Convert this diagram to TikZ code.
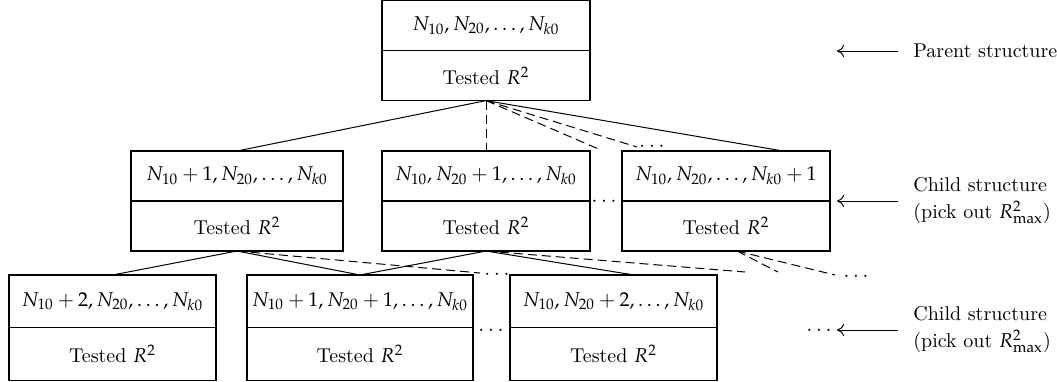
\documentclass[tikz,border=0pt]{standalone}
\usepackage{mathpazo}
\usetikzlibrary{arrows.meta,calc}
\newcommand\tbox[7]{%
  \node[frame, minimum width=#4, minimum height=#5] (#1) at (#2,#3) {};
  \draw[divline] (#1.west) -- (#1.east);
  \node[lbl] (#1-t) at ($(#1.north)!0.5!(#1.center)$) {#6};
  \node[lbl] (#1-b) at ($(#1.south)!0.5!(#1.center)$) {#7};
}
\begin{document}
\begin{tikzpicture}[x=0.5pt,y=-0.5pt,
  frame/.style={draw, line width=0.6pt, inner sep=0pt, outer sep=0pt},
  divline/.style={line width=0.6pt},
  lbl/.style={inner sep=0pt, font=\fontsize{10}{12}\selectfont},
  side/.style={inner sep=0pt, anchor=west, align=left, font=\fontsize{10}{13.5}\selectfont},
  dotsn/.style={inner sep=0pt, anchor=base, font=\fontsize{10}{12}\selectfont},
  link/.style={line width=0.5pt},
  dlink/.style={line width=0.5pt, dash pattern=on 4.5pt off 2.5pt},
  pointer/.style={line width=0.5pt, -{To[length=3.5pt,width=6pt]}},
]
\useasboundingbox (0,0) rectangle (1057,381);

% boxes
\tbox{p}{486}{50.6}{104pt}{50pt}{$N_{10}, N_{20}, \ldots, N_{k0}$}{Tested $R^2$}
\tbox{c1}{237}{201}{106pt}{50pt}{$N_{10}+1, N_{20}, \ldots, N_{k0}$}{Tested $R^2$}
\tbox{c2}{486}{201}{104pt}{50pt}{$N_{10}, N_{20}+1, \ldots, N_{k0}$}{Tested $R^2$}
\tbox{c3}{726}{201}{104pt}{50pt}{$N_{10}, N_{20}, \ldots, N_{k0}+1$}{Tested $R^2$}
\tbox{g1}{112.5}{327.7}{103.5pt}{52.7pt}{$N_{10}+2, N_{20}, \ldots, N_{k0}$}{Tested $R^2$}
\tbox{g2}{360}{327.7}{113pt}{52.7pt}{$N_{10}+1, N_{20}+1, \ldots, N_{k0}$}{Tested $R^2$}
\tbox{g3}{613.5}{327.7}{103.5pt}{52.7pt}{$N_{10}, N_{20}+2, \ldots, N_{k0}$}{Tested $R^2$}

% free ends and special anchor points
\coordinate (e1) at (601,150);
\coordinate (e2) at (637,147);
\coordinate (c3in) at (783,151);
\coordinate (c3out) at (737,251);
\coordinate (g3in) at (634,275);
\coordinate (e3) at (480,273);
\coordinate (e4) at (745,272);
\coordinate (e5) at (778,272);
\coordinate (e6) at (835,275);

% dots
\node[dotsn] (d1) at (652,151) {$\cdots$};
\node[dotsn] (d2) at (604,206.5) {$\cdots$};
\node[dotsn] (d3) at (497,279) {$\cdots$};
\node[dotsn] (d4) at (856,281) {$\cdots$};
\node[dotsn] (d5) at (491,335) {$\cdots$};
\node[dotsn] (d6) at (819,335) {$\cdots$};

% level 1 connectors
\draw[link] (p.south) -- (c1.north);
\draw[dlink] (p.south) -- (c2.north);
\draw[dlink] (p.south) -- (e1);
\draw[dlink] (p.south) -- (e2);
\draw[link] (p.south) -- (c3in);

% level 2 connectors
\draw[link] (c1.south) -- (g1.north);
\draw[link] (c1.south) -- (g2.north);
\draw[dlink] (c1.south) -- (e3);
\draw[link] (c2.south) -- (g2.north);
\draw[link] (c2.south) -- (g3in);
\draw[dlink] (c2.south) -- (e4);
\draw[dlink] (c3out) -- (e5);
\draw[dlink] (c3out) -- (e6);

% side labels
\node[side] (t1) at (913,51) {Parent structure};
\node[side] (t2) at (913,201) {Child structure\\(pick out $R^2_{\max}$)};
\node[side] (t3) at (913,330) {Child structure\\(pick out $R^2_{\max}$)};
\coordinate (a1) at (898,51);
\coordinate (h1) at (837,51);
\coordinate (a2) at (898,201);
\coordinate (h2) at (837,201);
\coordinate (a3) at (898,330);
\coordinate (h3) at (837,330);
\draw[pointer] (a1) -- (h1);
\draw[pointer] (a2) -- (h2);
\draw[pointer] (a3) -- (h3);
\end{tikzpicture}
\end{document}
